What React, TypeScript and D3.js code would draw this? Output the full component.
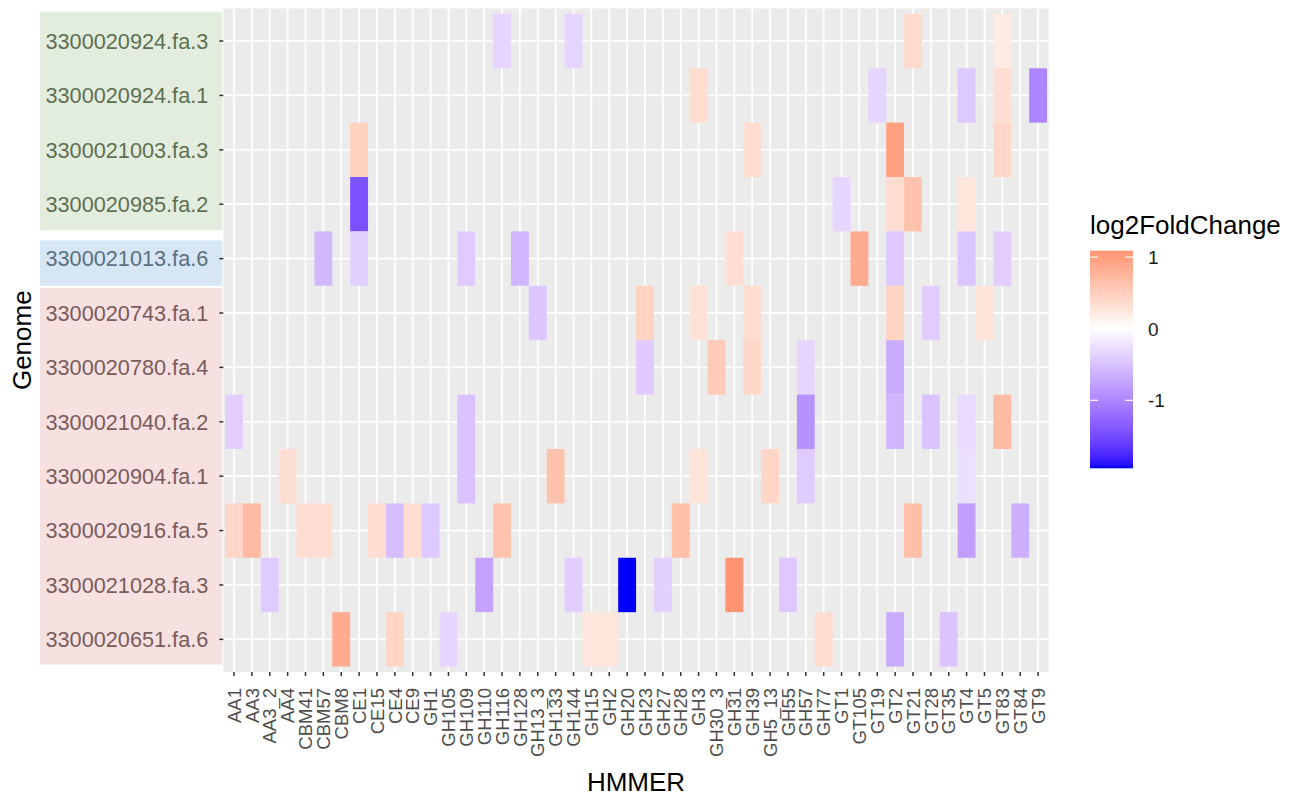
import React, { useEffect, useRef } from "react";
import * as d3 from "d3";

const genomes = [
  "3300020924.fa.3",
  "3300020924.fa.1",
  "3300021003.fa.3",
  "3300020985.fa.2",
  "3300021013.fa.6",
  "3300020743.fa.1",
  "3300020780.fa.4",
  "3300021040.fa.2",
  "3300020904.fa.1",
  "3300020916.fa.5",
  "3300021028.fa.3",
  "3300020651.fa.6",
];

const hmmers = [
  "AA1", "AA3", "AA3_2", "AA4", "CBM41", "CBM57", "CBM8", "CE1", "CE15", "CE4",
  "CE9", "GH1", "GH105", "GH109", "GH110", "GH116", "GH128", "GH13_3", "GH133",
  "GH144", "GH15", "GH2", "GH20", "GH23", "GH27", "GH28", "GH3", "GH30_3", "GH31",
  "GH39", "GH5_13", "GH55", "GH57", "GH77", "GT1", "GT105", "GT19", "GT2", "GT21",
  "GT28", "GT35", "GT4", "GT5", "GT83", "GT84", "GT9",
];

// genome groups shown as coloured boxes behind the y labels
const greenGenomes = genomes.slice(0, 4);
const blueGenomes = genomes.slice(4, 5);
const pinkGenomes = genomes.slice(5);

// [hmmer, log2FoldChange] per genome
const g20924_3: [string, number][] = [["GH116", -0.33], ["GH144", -0.33], ["GT21", 0.38], ["GT83", 0.21]];
const g20924_1: [string, number][] = [["GH3", 0.35], ["GT19", -0.33], ["GT4", -0.45], ["GT83", 0.33], ["GT9", -1.0]];
const g21003_3: [string, number][] = [["CE1", 0.48], ["GH39", 0.35], ["GT2", 0.97], ["GT83", 0.42]];
const g20985_2: [string, number][] = [["CE1", -1.45], ["GT1", -0.33], ["GT2", 0.35], ["GT21", 0.62], ["GT4", 0.25]];
const g21013_6: [string, number][] = [
  ["CBM57", -0.58], ["CE1", -0.38], ["GH109", -0.42], ["GH128", -0.6], ["GH31", 0.33],
  ["GT105", 0.86], ["GT2", -0.45], ["GT4", -0.47], ["GT83", -0.4],
];
const g20743_1: [string, number][] = [
  ["GH13_3", -0.46], ["GH23", 0.45], ["GH3", 0.3], ["GH39", 0.35], ["GT2", 0.45], ["GT28", -0.4], ["GT5", 0.28],
];
const g20780_4: [string, number][] = [["GH23", -0.42], ["GH30_3", 0.55], ["GH39", 0.4], ["GH57", -0.33], ["GT2", -0.68]];
const g21040_2: [string, number][] = [
  ["AA1", -0.4], ["GH109", -0.5], ["GH57", -0.9], ["GT2", -0.6], ["GT28", -0.48], ["GT4", -0.3], ["GT83", 0.7],
];
const g20904_1: [string, number][] = [
  ["AA4", 0.33], ["GH109", -0.5], ["GH133", 0.62], ["GH3", 0.28], ["GH5_13", 0.42], ["GH57", -0.42], ["GT4", -0.25],
];
const g20916_5: [string, number][] = [
  ["AA1", 0.42], ["AA3", 0.7], ["CBM41", 0.35], ["CBM57", 0.34], ["CE15", 0.35], ["CE4", -0.52], ["CE9", 0.34],
  ["GH1", -0.45], ["GH116", 0.62], ["GH28", 0.66], ["GT21", 0.66], ["GT4", -0.8], ["GT84", -0.65],
];
const g21028_3: [string, number][] = [
  ["AA3_2", -0.42], ["GH110", -0.76], ["GH144", -0.4], ["GH20", -1.95], ["GH27", -0.38], ["GH31", 1.09], ["GH55", -0.44],
];
const g20651_6: [string, number][] = [
  ["CBM8", 0.86], ["CE4", 0.43], ["GH105", -0.33], ["GH15", 0.25], ["GH2", 0.25], ["GH77", 0.35], ["GT2", -0.68], ["GT35", -0.47],
];

const rowsData = [
  g20924_3, g20924_1, g21003_3, g20985_2, g21013_6, g20743_1,
  g20780_4, g21040_2, g20904_1, g20916_5, g21028_3, g20651_6,
];

const legendTicks = [-1, 0, 1];

const FONT = "'Liberation Sans', Arial, Helvetica, sans-serif";

export default function App() {
  const ref = useRef<SVGSVGElement>(null);

  useEffect(() => {
    document.body.style.margin = "0";
    const svg = d3.select(ref.current);
    svg.selectAll("*").remove();

    const cells = rowsData.flatMap((row, i) =>
      row.map(([h, v]) => ({ genome: genomes[i], hmmer: h, value: v }))
    );

    const x = d3.scaleBand().domain(hmmers).range([223.3, 1048.8]).paddingInner(0).paddingOuter(0.1);
    const y = d3.scaleBand().domain(genomes).range([8.4, 672]).paddingInner(0).paddingOuter(0.1);

    const vmin = d3.min(cells, (d) => d.value) as number;
    const vmax = d3.max(cells, (d) => d.value) as number;
    const maxAbs = Math.max(Math.abs(vmin), Math.abs(vmax));
    const color = d3
      .scaleLinear<string>()
      .domain([-maxAbs, 0, maxAbs])
      .range(["blue", "white", "red"])
      .interpolate(d3.interpolateLab);

    const [x0, x1] = x.range();
    const [y0, y1] = y.range();

    // label boxes (top inset, bottom inset)
    const boxes: [string[], string, number, number][] = [
      [greenGenomes, "#e3eddd", -2, 1],
      [blueGenomes, "#d6e6f4", 9, 0],
      [pinkGenomes, "#f6e0e0", 2, 2],
    ];
    boxes.forEach(([g, fill, ti, bi]) => {
      const top = (y(g[0]) as number) + ti;
      const bottom = (y(g[g.length - 1]) as number) + y.bandwidth() - bi;
      svg
        .append("rect")
        .attr("x", 40)
        .attr("y", top)
        .attr("width", x0 - 40 - 1)
        .attr("height", bottom - top)
        .attr("fill", fill);
    });

    // panel
    svg.append("rect").attr("x", x0).attr("y", y0).attr("width", x1 - x0).attr("height", y1 - y0).attr("fill", "#ebebeb");

    const grid = svg.append("g").attr("stroke", "white").attr("stroke-width", 1.8);
    grid
      .selectAll("line.v")
      .data(hmmers)
      .enter()
      .append("line")
      .attr("x1", (d) => (x(d) as number) + x.bandwidth() / 2)
      .attr("x2", (d) => (x(d) as number) + x.bandwidth() / 2)
      .attr("y1", y0)
      .attr("y2", y1);
    grid
      .selectAll("line.h")
      .data(genomes)
      .enter()
      .append("line")
      .attr("y1", (d) => (y(d) as number) + y.bandwidth() / 2)
      .attr("y2", (d) => (y(d) as number) + y.bandwidth() / 2)
      .attr("x1", x0)
      .attr("x2", x1);

    svg
      .append("g")
      .selectAll("rect")
      .data(cells)
      .enter()
      .append("rect")
      .attr("x", (d) => x(d.hmmer) as number)
      .attr("y", (d) => y(d.genome) as number)
      .attr("width", x.bandwidth())
      .attr("height", y.bandwidth())
      .attr("fill", (d) => color(d.value));

    // x axis
    const xa = svg.append("g");
    hmmers.forEach((h) => {
      const cx = (x(h) as number) + x.bandwidth() / 2;
      xa.append("line").attr("x1", cx).attr("x2", cx).attr("y1", y1).attr("y2", y1 + 4).attr("stroke", "#333").attr("stroke-width", 1.5);
      xa.append("text")
        .attr("transform", `translate(${cx},${y1 + 16}) rotate(-90)`)
        .attr("text-anchor", "end")
        .attr("dy", "0.36em")
        .attr("font-family", FONT)
        .attr("font-size", 18.5)
        .attr("fill", "#4d4d4d")
        .text(h);
    });

    // y axis
    const ya = svg.append("g");
    const labelFill = (g: string) =>
      greenGenomes.includes(g) ? "#5d7052" : blueGenomes.includes(g) ? "#5a6f80" : "#7a5c5c";
    genomes.forEach((g) => {
      const cy = (y(g) as number) + y.bandwidth() / 2;
      ya.append("line").attr("x1", x0 - 4).attr("x2", x0).attr("y1", cy).attr("y2", cy).attr("stroke", "#333").attr("stroke-width", 1.5);
      ya.append("text")
        .attr("x", x0 - 15)
        .attr("y", cy)
        .attr("dy", "0.36em")
        .attr("text-anchor", "end")
        .attr("font-family", FONT)
        .attr("font-size", 21.7)
        .attr("fill", labelFill(g))
        .text(g);
    });

    // titles
    svg.append("text").attr("x", (x0 + x1) / 2).attr("y", 791).attr("text-anchor", "middle")
      .attr("font-family", FONT).attr("font-size", 26).attr("fill", "black").text("HMMER");
    svg.append("text").attr("transform", `translate(31,${(y0 + y1) / 2}) rotate(-90)`).attr("text-anchor", "middle")
      .attr("font-family", FONT).attr("font-size", 26).attr("fill", "black").text("Genome");

    // legend
    const lg = svg.append("g");
    const ls = d3.scaleLinear().domain([vmin, vmax]).range([468.3, 250.7]);
    const defs = svg.append("defs");
    const grad = defs.append("linearGradient").attr("id", "lgrad").attr("x1", 0).attr("x2", 0).attr("y1", 1).attr("y2", 0);
    d3.range(0, 1.0001, 0.02).forEach((t) => {
      grad.append("stop").attr("offset", t).attr("stop-color", color(vmin + t * (vmax - vmin)));
    });
    lg.append("text").attr("x", 1090).attr("y", 234).attr("font-family", FONT).attr("font-size", 26).attr("fill", "black").text("log2FoldChange");
    lg.append("rect").attr("x", 1090).attr("y", ls(vmax)).attr("width", 43).attr("height", ls(vmin) - ls(vmax)).attr("fill", "url(#lgrad)");
    legendTicks.forEach((t) => {
      const ty = ls(t);
      lg.append("line").attr("x1", 1090).attr("x2", 1098).attr("y1", ty).attr("y2", ty).attr("stroke", "white").attr("stroke-width", 1.2);
      lg.append("line").attr("x1", 1125).attr("x2", 1133).attr("y1", ty).attr("y2", ty).attr("stroke", "white").attr("stroke-width", 1.2);
      lg.append("text").attr("x", 1148).attr("y", ty).attr("dy", "0.36em").attr("font-family", FONT)
        .attr("font-size", 19).attr("fill", "#1a1a1a").text(String(t));
    });
  }, []);

  return <svg ref={ref} width={1311} height={799} style={{ display: "block", background: "white" }} />;
}
